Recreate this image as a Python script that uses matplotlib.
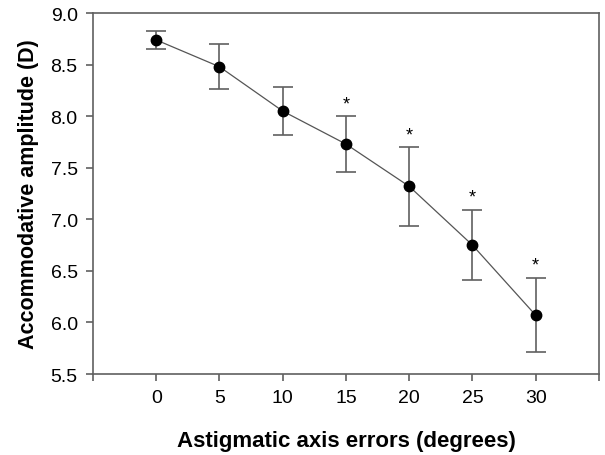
import numpy as np
import matplotlib.pyplot as plt

plt.rcParams['font.family'] = ['Liberation Sans', 'DejaVu Sans']

# axis error (degrees) vs accommodative amplitude (D)
axis_error = [0, 5, 10, 15, 20, 25, 30]
amplitude = [8.74, 8.48, 8.05, 7.73, 7.32, 6.75, 6.07]
sd = [0.09, 0.22, 0.23, 0.27, 0.38, 0.34, 0.36]
significant = [False, False, False, True, True, True, True]

fig = plt.figure(figsize=(6.05, 4.56), dpi=100)
ax = fig.add_axes([0.1537, 0.1776, 0.8363, 0.7914])

ax.errorbar(axis_error, amplitude, yerr=sd, fmt='none', ecolor='#606060',
            elinewidth=1.2, capsize=7, capthick=1.2, zorder=2)
ax.plot(axis_error, amplitude, color='#555555', lw=0.9, zorder=3)
ax.plot(axis_error, amplitude, 'o', color='black', ms=7.5, zorder=4)

for x, y, e, s in zip(axis_error, amplitude, sd, significant):
    if s:
        ax.annotate('*', (x, y + e), xytext=(0, 3), textcoords='offset points',
                    ha='center', va='bottom', fontsize=13)

ax.set_xlim(-5, 35)
ax.set_ylim(5.5, 9.0)
ax.set_xticks(range(-5, 40, 5))
ax.set_xticklabels([''] + [str(v) for v in range(0, 35, 5)] + [''])
ax.set_yticks(np.arange(5.5, 9.01, 0.5))
ax.set_yticklabels(['%.1f' % v for v in np.arange(5.5, 9.01, 0.5)])
ax.tick_params(direction='out', length=5, width=1.2, color='#606060',
               labelsize=14, pad=6)
for sp in ax.spines.values():
    sp.set_color('#606060')
    sp.set_linewidth(1.2)

ax.set_xlabel('Astigmatic axis errors (degrees)', fontsize=16,
              fontweight='bold', labelpad=17)
ax.set_ylabel('Accommodative amplitude (D)', fontsize=15.5,
              fontweight='bold', labelpad=8)

fig.savefig('out.png', dpi=100)
